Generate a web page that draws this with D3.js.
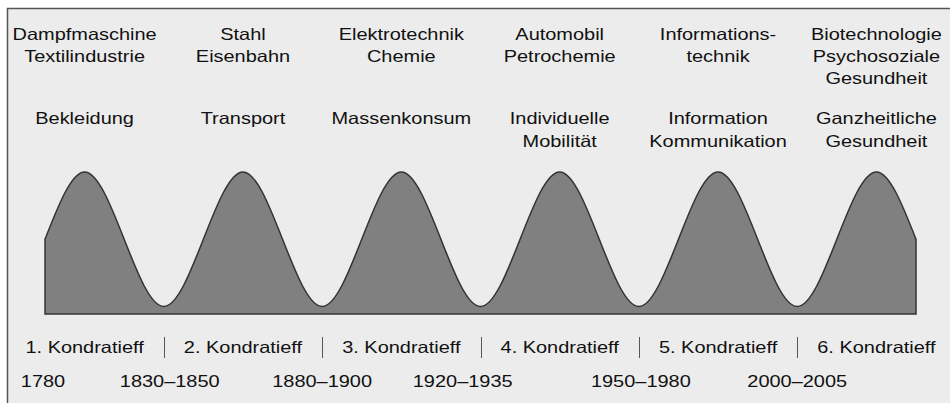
<!DOCTYPE html>
<html>
<head>
<meta charset="utf-8">
<script src="https://cdn.jsdelivr.net/npm/d3@7"></script>
<style>
  body { margin: 0; background: #fff; }
  svg text { font-family: "Liberation Sans", Arial, sans-serif; font-size: 16.5px; fill: #111; }
</style>
</head>
<body>
<svg width="950" height="403"></svg>
<script>
// Wave values sampled every quarter cycle (mid, peak, mid, trough, ...)
const wave = [50, 95, 50, 5, 50, 95, 50, 5, 50, 95, 50, 5, 50, 95, 50, 5, 50, 95, 50, 5, 50, 95, 50];
const peaks = [1, 5, 9, 13, 17, 21];
const troughs = [3, 7, 11, 15, 19];

const technologies = [
    ["Dampfmaschine", "Textilindustrie"],
    ["Stahl", "Eisenbahn"],
    ["Elektrotechnik", "Chemie"],
    ["Automobil", "Petrochemie"],
    ["Informations-", "technik"],
    ["Biotechnologie", "Psychosoziale", "Gesundheit"]
];
const needs = [
    ["Bekleidung"],
    ["Transport"],
    ["Massenkonsum"],
    ["Individuelle", "Mobilität"],
    ["Information", "Kommunikation"],
    ["Ganzheitliche", "Gesundheit"]
];
const cycles = ["1. Kondratieff", "2. Kondratieff", "3. Kondratieff", "4. Kondratieff", "5. Kondratieff", "6. Kondratieff"];
const periods = ["1780", "1830–1850", "1880–1900", "1920–1935", "1950–1980", "2000–2005"];
const periodPos = [-0.05, 3.15, 7.0, 10.55, 15.05, 19.0];

const svg = d3.select("svg");
const stretch = 1.21;

// frame
svg.append("rect").attr("x", 7).attr("y", 8).attr("width", 943).attr("height", 395).attr("fill", "#ececec");
svg.append("path").attr("d", "M7.5,403V8.5H950").attr("fill", "none").attr("stroke", "#555").attr("stroke-width", 1.5);

// scales
const x = d3.scaleLinear().domain([0, wave.length - 1]).range([45, 916]);
const y = d3.scaleLinear().domain([0, 100]).range([314, 164.5]);

const area = d3.area()
    .x((d, i) => x(i))
    .y0(y(0))
    .y1(d => y(d))
    .curve(d3.curveNatural);

svg.append("path")
    .datum(wave)
    .attr("d", area)
    .attr("fill", "#808080")
    .attr("stroke", "#333")
    .attr("stroke-width", 1.5);

// helper for the horizontally stretched labels
function label(g, cx, cy, str) {
    g.append("text")
        .attr("transform", `translate(${cx},${cy}) scale(${stretch},1)`)
        .attr("text-anchor", "middle")
        .text(str);
}

const textG = svg.append("g");
technologies.forEach((lines, i) => {
    lines.forEach((s, j) => label(textG, x(peaks[i]), 39.5 + j * 22, s));
});
needs.forEach((lines, i) => {
    lines.forEach((s, j) => label(textG, x(peaks[i]), 124 + j * 22.5, s));
});
cycles.forEach((s, i) => label(textG, x(peaks[i]), 353, s));
periods.forEach((s, i) => label(textG, x(periodPos[i]), 387, s));

// separators between cycles
svg.append("g").selectAll("line")
    .data(troughs)
    .join("line")
    .attr("x1", d => Math.round(x(d)) + 0.5)
    .attr("x2", d => Math.round(x(d)) + 0.5)
    .attr("y1", 337)
    .attr("y2", 358)
    .attr("stroke", "#555")
    .attr("stroke-width", 1);
</script>
</body>
</html>
